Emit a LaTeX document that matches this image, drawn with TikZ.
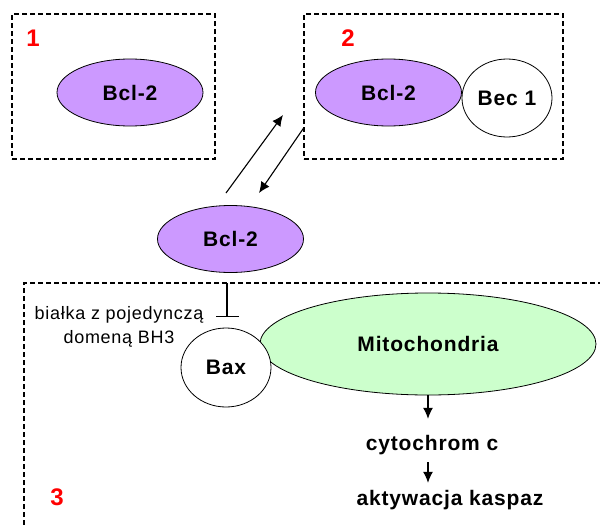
\documentclass[tikz,border=0pt]{standalone}
\usepackage{fontspec}
\setmainfont{Liberation Sans}[LetterSpace=4]
\usetikzlibrary{shapes,arrows.meta}
\definecolor{bclviolet}{RGB}{204,153,255}
\definecolor{mitogreen}{RGB}{204,255,204}
\tikzset{
  zone/.style     = {draw, dash pattern=on 5pt off 3pt, line width=1.2pt,
                     inner sep=0pt},
  num/.style      = {text=red, inner sep=0pt,
                     font=\fontsize{24}{24}\selectfont\bfseries},
  protein/.style  = {ellipse, draw, line width=0.8pt, inner sep=0pt,
                     font=\fontsize{21}{21}\selectfont\bfseries},
  bcl/.style      = {protein, fill=bclviolet,
                     minimum width=146pt, minimum height=67pt},
  partner/.style  = {protein, fill=white},
  mito/.style     = {protein, fill=mitogreen,
                     minimum width=336pt, minimum height=102pt},
  txt/.style      = {inner sep=0pt, text height=15pt, text depth=5pt,
                     font=\fontsize{21}{21}\selectfont\bfseries},
  note/.style     = {align=center, inner sep=0pt,
                     font=\fontsize{18}{24}\selectfont},
  flow/.style     = {-{Latex[length=11pt,width=10pt]}, line width=1.1pt},
  block/.style    = {-{Bar[width=23pt]}, line width=1.1pt}
}

\begin{document}
\begin{tikzpicture}[x=1pt,y=-1pt]
  \useasboundingbox (0,0) rectangle (600,525);
  \node[zone, minimum width=203pt, minimum height=145pt] (zone1) at (113.5,86.5) {};
  \node[zone, minimum width=259pt, minimum height=145pt] (zone2) at (433.5,86.5) {};
  \draw[zone] (24,525) -- (24,283) -- (600,283);
  \node[num] (n1) at (33,38) {1};
  \node[num] (n2) at (348,38) {2};
  \node[num] (n3) at (57,497) {3};

  \node[bcl] (bcl1) at (130,92.5) {Bcl-2};
  \node[bcl] (bcl2) at (388.5,92.5) {Bcl-2};
  \node[partner, minimum width=90pt, minimum height=78pt] (bec) at (507,98) {Bec 1};
  \node[bcl] (bcl) at (230.5,239) {Bcl-2};

  \coordinate (bind) at (226,193);
  \coordinate (bindtip) at (283,115);
  \coordinate (free) at (304,127.5);
  \coordinate (freetip) at (259,193);
  \draw[flow] (bind) -- (bindtip);
  \draw[flow] (free) -- (freetip);

  \node[mito] (mito) at (428,344) {Mitochondria};
  \node[partner, minimum width=90pt, minimum height=79pt] (bax) at (226,367.5) {Bax};
  \coordinate (bh3) at (227,283);
  \coordinate (bh3end) at (227,317);
  \draw[block] (bh3) -- (bh3end);
  \node[note] (bh3text) at (119,327) {białka z pojedynczą\\domeną BH3};

  \node[txt] (cyto) at (432,445) {cytochrom c};
  \node[txt] (casp) at (450,500) {aktywacja kaspaz};
  \draw[flow, shorten >=16pt] (mito.south) -- (mito.south |- cyto.north);
  \draw[flow, shorten <=7pt, shorten >=7pt] (mito.south |- cyto.south) -- (mito.south |- casp.north);
\end{tikzpicture}
\end{document}
